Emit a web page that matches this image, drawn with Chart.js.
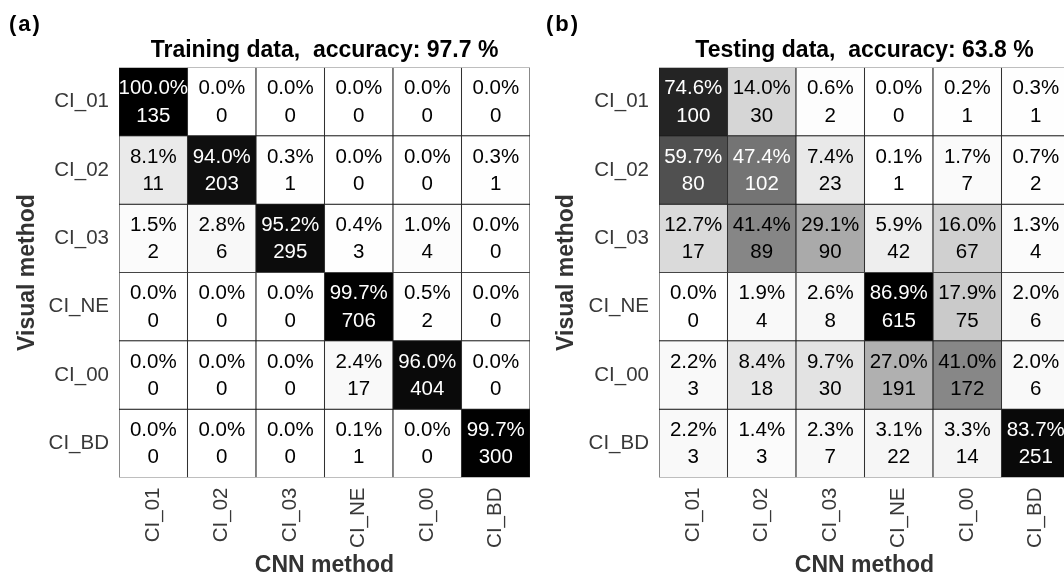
<!DOCTYPE html>
<html><head><meta charset="utf-8">
<script src="https://cdn.jsdelivr.net/npm/chart.js@4.4.1/dist/chart.umd.min.js"></script>
<style>
html,body{margin:0;padding:0;background:#fff;}
body{width:1064px;height:575px;overflow:hidden;position:relative;}
.panel{position:absolute;top:0;}
canvas{display:block;}
</style></head><body>
<div class="panel" style="left:0px"><canvas id="c1" width="532" height="575"></canvas></div>
<div class="panel" style="left:540px"><canvas id="c2" width="540" height="575"></canvas></div>
<script>
// ---- data ----
const rowLabels = ['CI_01', 'CI_02', 'CI_03', 'CI_NE', 'CI_00', 'CI_BD'];
const colLabels = ['CI_01', 'CI_02', 'CI_03', 'CI_NE', 'CI_00', 'CI_BD'];

const trainTitle = 'Training data,  accuracy: 97.7 %';
const trainPct = [
  [100.0, 0.0, 0.0, 0.0, 0.0, 0.0],
  [8.1, 94.0, 0.3, 0.0, 0.0, 0.3],
  [1.5, 2.8, 95.2, 0.4, 1.0, 0.0],
  [0.0, 0.0, 0.0, 99.7, 0.5, 0.0],
  [0.0, 0.0, 0.0, 2.4, 96.0, 0.0],
  [0.0, 0.0, 0.0, 0.1, 0.0, 99.7]
];
const trainCount = [
  [135, 0, 0, 0, 0, 0],
  [11, 203, 1, 0, 0, 1],
  [2, 6, 295, 3, 4, 0],
  [0, 0, 0, 706, 2, 0],
  [0, 0, 0, 17, 404, 0],
  [0, 0, 0, 1, 0, 300]
];

const testTitle = 'Testing data,  accuracy: 63.8 %';
const testPct = [
  [74.6, 14.0, 0.6, 0.0, 0.2, 0.3],
  [59.7, 47.4, 7.4, 0.1, 1.7, 0.7],
  [12.7, 41.4, 29.1, 5.9, 16.0, 1.3],
  [0.0, 1.9, 2.6, 86.9, 17.9, 2.0],
  [2.2, 8.4, 9.7, 27.0, 41.0, 2.0],
  [2.2, 1.4, 2.3, 3.1, 3.3, 83.7]
];
const testCount = [
  [100, 30, 2, 0, 1, 1],
  [80, 102, 23, 1, 7, 2],
  [17, 89, 90, 42, 67, 4],
  [0, 4, 8, 615, 75, 6],
  [3, 18, 30, 191, 172, 6],
  [3, 3, 7, 22, 14, 251]
];

// ---- rendering ----
const FONT = '"Liberation Sans", Arial, Helvetica, sans-serif';
Chart.defaults.font.family = FONT;

function shade(p, maxP) {
  const g = Math.round(255 * (1 - p / maxP));
  return 'rgb(' + g + ',' + g + ',' + g + ')';
}

const cellText = {
  id: 'cellText',
  afterDatasetsDraw(chart, args, opts) {
    const ctx = chart.ctx;
    ctx.save();
    ctx.font = '20.5px ' + FONT;
    ctx.textAlign = 'center';
    ctx.textBaseline = 'middle';
    chart.data.datasets.forEach((ds, i) => {
      const meta = chart.getDatasetMeta(i);
      meta.data.forEach((bar, j) => {
        const p = opts.pct[i][j], n = opts.counts[i][j];
        const cx = bar.x, cy = (bar.y + bar.base) / 2;
        const h = Math.abs(bar.base - bar.y);
        ctx.fillStyle = p / opts.max > 0.5 ? '#ffffff' : '#000000';
        ctx.fillText(p.toFixed(1) + '%', cx, cy - h * 0.19);
        ctx.fillText(String(n), cx, cy + h * 0.21);
      });
    });
    ctx.restore();
  }
};

const panelLabel = {
  id: 'panelLabel',
  afterDraw(chart, args, opts) {
    const ctx = chart.ctx;
    ctx.save();
    ctx.font = 'bold 22px ' + FONT;
    ctx.fillStyle = '#000';
    ctx.textAlign = 'left';
    ctx.textBaseline = 'alphabetic';
    try { ctx.letterSpacing = '2px'; } catch (e) {}
    ctx.fillText(opts.text, opts.x, opts.y);
    ctx.restore();
  }
};

function makeChart(id, pct, counts, titleText, label, labelX, padRight, yTitlePad) {
  const maxP = Math.max(...pct.flat());
  const datasets = rowLabels.map((r, i) => ({
    label: r,
    data: colLabels.map(() => [i, i + 1]),
    backgroundColor: pct[i].map(p => shade(p, maxP)),
    borderColor: '#1c1c1c',
    borderWidth: 0.85,
    borderSkipped: false,
    barPercentage: 1,
    categoryPercentage: 1,
    grouped: false
  }));
  return new Chart(document.getElementById(id), {
    type: 'bar',
    data: { labels: colLabels, datasets },
    plugins: [cellText, panelLabel],
    options: {
      responsive: false,
      animation: false,
      events: [],
      layout: { padding: { left: 0, right: padRight, top: 0, bottom: 0 } },
      plugins: {
        legend: { display: false },
        tooltip: { enabled: false },
        title: {
          display: true,
          text: titleText,
          fullSize: false,
          color: '#000',
          font: { size: 23, weight: 'bold', lineHeight: 1.2 },
          padding: { top: 36.8, bottom: 3.1 }
        },
        cellText: { pct, counts, max: maxP },
        panelLabel: { text: label, x: labelX, y: 31 }
      },
      scales: {
        x: {
          type: 'category',
          offset: true,
          afterFit: s => { s.height = 97.5; },
          grid: { display: false, drawTicks: false },
          border: { display: false },
          ticks: { minRotation: 90, maxRotation: 90, padding: 10, color: '#383838', font: { size: 20.5 }, autoSkip: false },
          title: { display: true, text: 'CNN method', color: '#333', font: { size: 23, weight: 'bold', lineHeight: 1 }, padding: { top: 0, bottom: -2.5 } }
        },
        y: {
          type: 'linear',
          min: 0,
          max: 6,
          reverse: true,
          bounds: 'data',
          afterBuildTicks: s => { s.ticks = rowLabels.map((_, i) => ({ value: i + 0.5 })); },
          afterFit: s => { s.width = 119; },
          grid: { display: false, drawTicks: false },
          border: { display: false },
          ticks: { callback: v => rowLabels[Math.floor(v)], padding: 10, color: '#383838', font: { size: 20.5 }, autoSkip: false },
          title: { display: true, text: 'Visual method', color: '#333', font: { size: 23, weight: 'bold', lineHeight: 1 }, padding: { top: yTitlePad, bottom: 0 } }
        }
      }
    }
  });
}

makeChart('c1', trainPct, trainCount, trainTitle, '(a)', 9, 2, 16.5);
makeChart('c2', testPct, testCount, testTitle, '(b)', 6, 10, 15);
</script>
</body></html>
